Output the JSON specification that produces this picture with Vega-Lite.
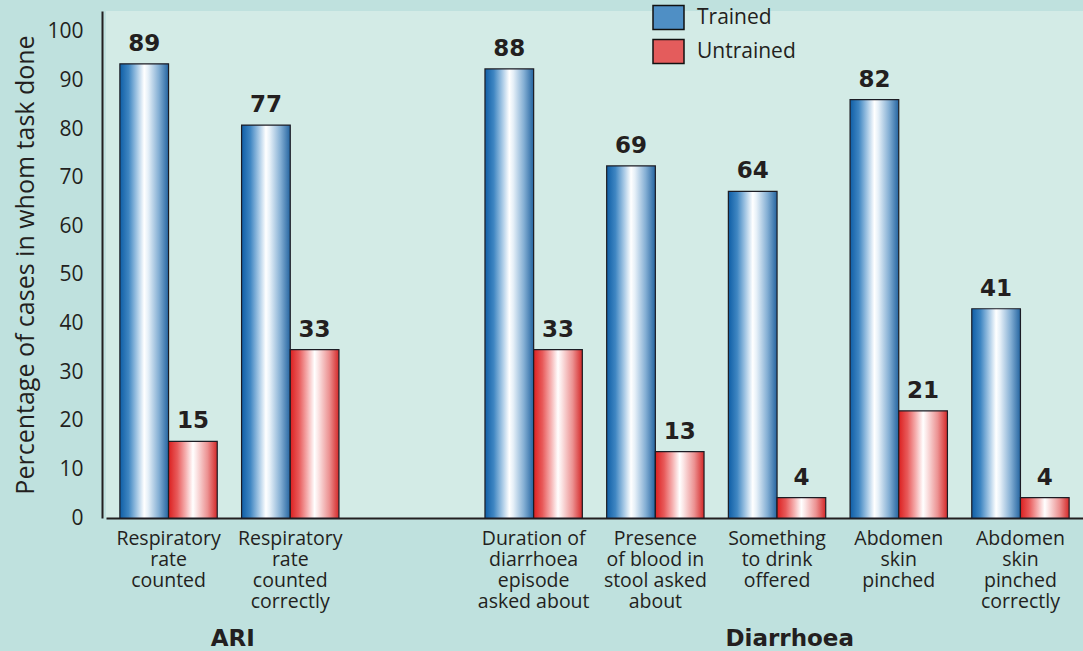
{
  "$schema": "https://vega.github.io/schema/vega-lite/v6.json",
  "autosize": {"type": "none"},
  "width": 977,
  "height": 507,
  "padding": {"left": 106, "top": 11, "right": 0, "bottom": 133},
  "background": "#bfe1de",
  "config": {
    "view": {"stroke": null, "fill": "#d3ebe6"},
    "font": "Open Sans"
  },
  "datasets": {
    "tasks": [
      {"category": "Respiratory rate counted", "group": "Trained", "value": 89},
      {"category": "Respiratory rate counted", "group": "Untrained", "value": 15},
      {"category": "Respiratory rate counted correctly", "group": "Trained", "value": 77},
      {"category": "Respiratory rate counted correctly", "group": "Untrained", "value": 33},
      {"category": "Duration of diarrhoea episode asked about", "group": "Trained", "value": 88},
      {"category": "Duration of diarrhoea episode asked about", "group": "Untrained", "value": 33},
      {"category": "Presence of blood in stool asked about", "group": "Trained", "value": 69},
      {"category": "Presence of blood in stool asked about", "group": "Untrained", "value": 13},
      {"category": "Something to drink offered", "group": "Trained", "value": 64},
      {"category": "Something to drink offered", "group": "Untrained", "value": 4},
      {"category": "Abdomen skin pinched", "group": "Trained", "value": 82},
      {"category": "Abdomen skin pinched", "group": "Untrained", "value": 21},
      {"category": "Abdomen skin pinched correctly", "group": "Trained", "value": 41},
      {"category": "Abdomen skin pinched correctly", "group": "Untrained", "value": 4}
    ]
  },
  "layer": [
    {
      "data": {"name": "tasks"},
      "mark": {"type": "bar", "stroke": "#1c1c24", "strokeWidth": 1.2, "opacity": 1},
      "encoding": {
        "x": {
          "field": "category", "type": "nominal",
          "scale": {"domain": ["Respiratory rate counted", "Respiratory rate counted correctly", " ", "Duration of diarrhoea episode asked about", "Presence of blood in stool asked about", "Something to drink offered", "Abdomen skin pinched", "Abdomen skin pinched correctly"], "paddingInner": 0.2, "paddingOuter": 0.114},
          "axis": {
            "title": null, "labelAngle": 0, "ticks": false, "domainColor": "#231f20", "domainWidth": 2,
            "labelFont": "Open Sans", "labelFontSize": 19.5, "labelColor": "#231f20", "labelPadding": 11, "labelLineHeight": 21, "labelBaseline": "top",
            "labelExpr": "{'Respiratory rate counted':['Respiratory','rate','counted'],'Respiratory rate counted correctly':['Respiratory','rate','counted','correctly'],'Duration of diarrhoea episode asked about':['Duration of','diarrhoea','episode','asked about'],'Presence of blood in stool asked about':['Presence','of blood in','stool asked','about'],'Something to drink offered':['Something','to drink','offered'],'Abdomen skin pinched':['Abdomen','skin','pinched'],'Abdomen skin pinched correctly':['Abdomen','skin','pinched','correctly']}[datum.label] || ''"
          }
        },
        "xOffset": {"field": "group", "type": "nominal", "scale": {"domain": ["Trained", "Untrained"], "paddingInner": 0}},
        "y": {
          "field": "value", "type": "quantitative",
          "scale": {"domain": [0, 99.35], "nice": false, "zero": true},
          "axis": {
            "title": "Percentage of cases in whom task done", "titleFont": "Open Sans", "titleFontSize": 25, "titleFontWeight": "normal", "titleColor": "#231f20", "titlePadding": 8,
            "values": [0, 9.5238, 19.0476, 28.5714, 38.0952, 47.619, 57.1429, 66.6667, 76.1905, 85.7143, 95.2381],
            "labelExpr": "format(datum.value * 1.05, '.0f')",
            "grid": false, "ticks": false, "offset": 4, "domainColor": "#231f20", "domainWidth": 2,
            "labelFont": "Open Sans", "labelFontSize": 21, "labelColor": "#231f20", "labelPadding": 19
          }
        },
        "color": {
          "condition": {"test": "datum.group === 'Trained'", "value": {"gradient": "linear", "x1": 0, "y1": 0, "x2": 1, "y2": 0, "stops": [{"offset": 0, "color": "#0f5ea6"}, {"offset": 0.18, "color": "#3f86c2"}, {"offset": 0.36, "color": "#a9cae6"}, {"offset": 0.5, "color": "#ffffff"}, {"offset": 0.58, "color": "#e6f0f8"}, {"offset": 0.8, "color": "#84afd4"}, {"offset": 1, "color": "#2464a0"}]}},
          "value": {"gradient": "linear", "x1": 0, "y1": 0, "x2": 1, "y2": 0, "stops": [{"offset": 0, "color": "#dc2020"}, {"offset": 0.18, "color": "#e85a5a"}, {"offset": 0.36, "color": "#f6b4b4"}, {"offset": 0.5, "color": "#ffffff"}, {"offset": 0.58, "color": "#fbe4e4"}, {"offset": 0.8, "color": "#ec9292"}, {"offset": 1, "color": "#d42828"}]}
        }
      }
    },
    {
      "data": {"name": "tasks"},
      "mark": {"type": "point", "opacity": 0, "filled": true},
      "encoding": {
        "x": {"field": "category", "type": "nominal"},
        "xOffset": {"field": "group", "type": "nominal"},
        "y": {"field": "value", "type": "quantitative"},
        "color": {
          "field": "group", "type": "nominal",
          "scale": {"domain": ["Trained", "Untrained"], "range": ["#4f8fc5", "#e45c5c"]},
          "legend": {
            "orient": "none", "legendX": 546, "legendY": -10, "title": null, "padding": 0,
            "symbolType": "M-1,-0.77H1V0.77H-1Z", "symbolSize": 961, "symbolStrokeColor": "#111111", "symbolStrokeWidth": 1.5, "symbolOpacity": 1,
            "labelFont": "Open Sans", "labelFontSize": 21, "labelColor": "#231f20", "labelOffset": 12, "rowPadding": 2
          }
        }
      }
    },
    {
      "data": {"name": "tasks"},
      "mark": {"type": "text", "font": "DejaVu Sans", "fontWeight": "bold", "fontSize": 23, "color": "#231f20", "baseline": "alphabetic", "dy": -13},
      "encoding": {
        "x": {"field": "category", "type": "nominal"},
        "xOffset": {"field": "group", "type": "nominal"},
        "y": {"field": "value", "type": "quantitative"},
        "text": {"field": "value", "type": "quantitative"}
      }
    },
    {
      "data": {"values": [{"category": "Respiratory rate counted correctly", "region": "ARI"}]},
      "mark": {"type": "text", "font": "DejaVu Sans", "fontWeight": "bold", "fontSize": 23, "color": "#231f20", "baseline": "alphabetic"},
      "encoding": {
        "x": {"field": "category", "type": "nominal", "bandPosition": -0.09},
        "y": {"datum": -25.1},
        "text": {"field": "region"}
      }
    },
    {
      "data": {"values": [{"category": "Something to drink offered", "region": "Diarrhoea"}]},
      "mark": {"type": "text", "font": "DejaVu Sans", "fontWeight": "bold", "fontSize": 23, "color": "#231f20", "baseline": "alphabetic"},
      "encoding": {
        "x": {"field": "category", "type": "nominal", "bandPosition": 0.63},
        "y": {"datum": -25.1},
        "text": {"field": "region"}
      }
    }
  ]
}
